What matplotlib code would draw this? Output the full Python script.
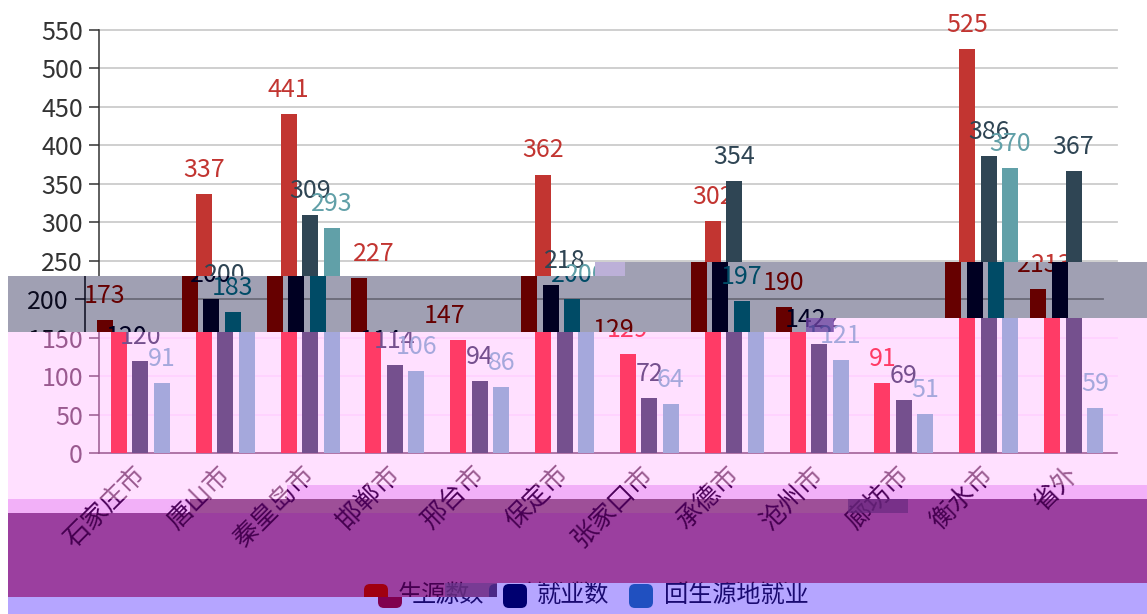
from __future__ import annotations

import matplotlib

matplotlib.use("Agg")

import numpy as np
from matplotlib import pyplot as plt
from matplotlib.patches import FancyBboxPatch, Rectangle
from matplotlib.transforms import Affine2D, Bbox

plt.rcParams["font.family"] = ["Noto Sans CJK SC", "DejaVu Sans"]

WIDTH, HEIGHT = 1147, 614

cities = ["石家庄市", "唐山市", "秦皇岛市", "邯郸市", "邢台市", "保定市",
          "张家口市", "承德市", "沧州市", "廊坊市", "衡水市", "省外"]
students = [173, 337, 441, 227, 147, 362, 129, 302, 190, 91, 525, 213]
employed = [120, 200, 309, 114, 94, 218, 72, 354, 142, 69, 386, 367]
returned = [91, 183, 293, 106, 86, 200, 64, 197, 121, 51, 370, 59]
series_names = ["生源数", "就业数", "回生源地就业"]
y_ticks = [0, 50, 100, 150, 200, 250, 300, 350, 400, 450, 500, 550]

# colours of each damaged band of the picture:
# background, three series, axis/text, grid, legend keys
PALETTES = {
    "clean": ("#FFFFFF", "#C23531", "#2F4554", "#61A0A8", "#333333", "#CCCCCC", None),
    "gray": ("#A0A0B3", "#660000", "#000022", "#004B66", "#0A0A1E", "#6A6A78", None),
    "pink": ("#FFE0FF", "#FF3B66", "#75508E", "#A5A8DC", "#9A5A90", "#FFD2FF", None),
    "pale": ("#F2B0F8", "#660000", "#000022", "#004B66", "#4A0058", "#FFD2FF", None),
    "mid": ("#9E4F98", "#660000", "#000022", "#004B66", "#4A0058", "#9E4F98", None),
    "dark": ("#9B3F9F", "#660000", "#000022", "#004B66", "#450050", "#9B3F9F",
             ("#A00010", "#000070", "#2050C0")),
    "lilac": ("#B5A5FF", "#660000", "#000022", "#004B66", "#1A0A70", "#B5A5FF",
              ("#800050", "#000070", "#2050C0")),
}

# x0, y0, x1, y1 in image pixels, palette, chart shift, legend shift
BANDS = [
    (0, 0, 595, 276, "clean", 0, 0),
    (595, 0, 1147, 262, "clean", 0, 0),
    (8, 276, 595, 332, "gray", -14, 0),
    (595, 262, 833, 332, "gray", -14, 0),
    (833, 262, 1147, 318, "gray", -14, 0),
    (8, 332, 287, 499, "pink", 0, 0),
    (287, 332, 833, 485, "pink", 0, 0),
    (833, 318, 1147, 485, "pink", 0, 0),
    (8, 499, 190, 513, "pale", 0, 0),
    (287, 485, 1147, 499, "pale", 0, 0),
    (190, 499, 850, 513, "mid", 0, 0),
    (8, 513, 497, 597, "dark", 0, -14),
    (497, 513, 850, 583, "dark", 0, -14),
    (850, 499, 1147, 583, "dark", 0, -14),
    (8, 597, 497, 614, "lilac", 0, 0),
    (497, 583, 1147, 614, "lilac", 0, 0),
]

GLITCHES = [
    (595, 262, 30, 14, "#C8B8E8"),
    (806, 318, 28, 14, "#7A4AB0"),
    (848, 499, 60, 14, "#6A2A80"),
    (445, 583, 52, 14, "#6A3A90"),
]

pixels = Affine2D().scale(1, -1).translate(0, HEIGHT)


def draw_band(fig, x0, y0, x1, y1, palette_name, shift, legend_shift):
    bg, c1, c2, c3, ink, grid, keys = PALETTES[palette_name]
    fig.add_artist(Rectangle((x0, y0), x1 - x0, y1 - y0, transform=pixels,
                             facecolor=bg, edgecolor="none", zorder=1))

    ax = fig.add_axes([(99 + shift) / WIDTH, (HEIGHT - 453) / HEIGHT,
                       1018 / WIDTH, 423 / HEIGHT])
    ax.set_zorder(2)
    ax.patch.set_visible(False)

    x = np.arange(len(cities))
    for offset, values, color in zip((-0.265, -0.012, 0.241),
                                     (students, employed, returned), (c1, c2, c3)):
        bars = ax.bar(x + offset, values, width=0.189, color=color, zorder=3)
        ax.bar_label(bars, padding=8, color=color, fontsize=18)

    ax.set_xlim(-0.5, len(cities) - 0.5)
    ax.set_ylim(0, 550)
    ax.set_yticks(y_ticks)
    ax.set_xticks(x)
    ax.set_xticklabels(cities, rotation=45, ha="right", va="center",
                       rotation_mode="anchor", fontsize=18.5, color=ink)
    ax.tick_params(axis="y", length=7.5, width=1.1, color=ink, labelcolor=ink,
                   labelsize=18, pad=4)
    ax.tick_params(axis="x", length=0, pad=13)
    ax.grid(axis="y", color=grid, linewidth=1.3)
    ax.set_axisbelow(True)
    ax.spines[["top", "right"]].set_visible(False)
    ax.spines[["left", "bottom"]].set_color(ink)
    ax.spines[["left", "bottom"]].set_linewidth(1.1)

    if keys is not None:
        key_x = (378, 503, 629)
        text_x = (412, 537, 664)
        for kx, tx, name, key in zip(key_x, text_x, series_names, keys):
            ax.add_artist(FancyBboxPatch((kx + legend_shift + 4, 588), 16, 16,
                                         boxstyle="round,pad=4,rounding_size=6",
                                         transform=pixels, facecolor=key,
                                         edgecolor="none"))
            ax.text(tx + legend_shift, 595, name, transform=pixels, color=ink,
                    fontsize=17.4, ha="left", va="center")

    # keep only the part of this copy that falls inside the band
    box = Bbox([[x0, HEIGHT - y1], [x1, HEIGHT - y0]])
    for artist in ax.findobj():
        if artist is not ax:
            artist.set_clip_on(True)
            artist.set_clip_box(box)


fig = plt.figure(figsize=(WIDTH / 100, HEIGHT / 100), dpi=100, facecolor="white")

for band in BANDS:
    draw_band(fig, *band)

for gx, gy, gw, gh, color in GLITCHES:
    fig.add_artist(Rectangle((gx, gy), gw, gh, transform=pixels, facecolor=color,
                             edgecolor="none", alpha=0.7, zorder=4))

fig.savefig("out.png", dpi=100)
plt.close(fig)
